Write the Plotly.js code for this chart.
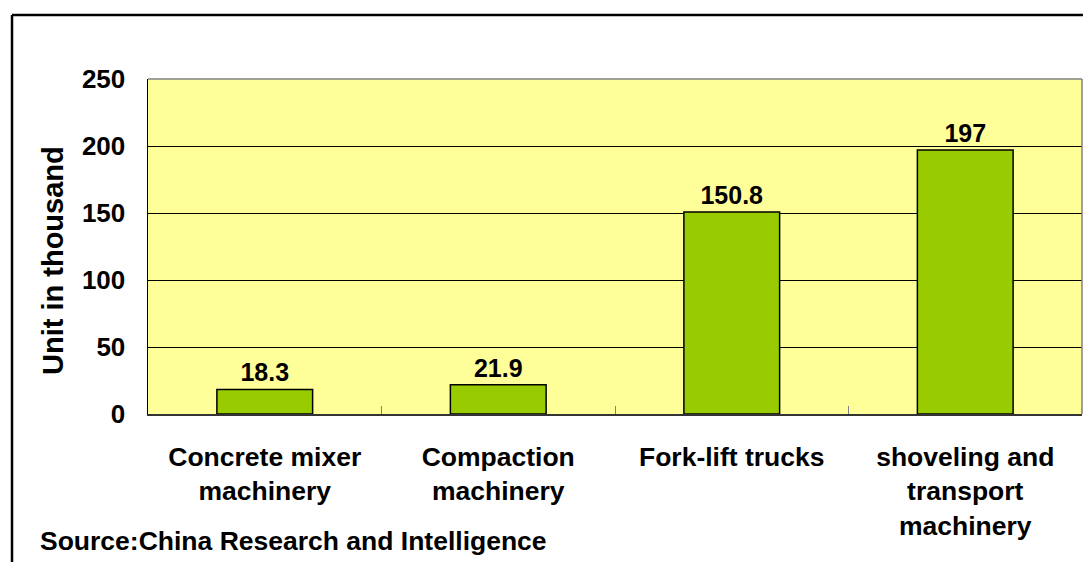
<!DOCTYPE html>
<html>
<head>
<meta charset="utf-8">
<script src="https://cdn.plot.ly/plotly-3.0.1.min.js"></script>
<style>html,body{margin:0;padding:0;background:#fff;}#chart{width:1083px;height:562px;}</style>
</head>
<body>
<div id="chart"></div>
<script>
const categories = ["Concrete mixer<br>machinery", "Compaction<br>machinery", "Fork-lift trucks", "shoveling and<br>transport<br>machinery"];
const values = [18.3, 21.9, 150.8, 197];
const valueLabels = ["18.3", "21.9", "150.8", "197"];
const yTickValues = [0, 50, 100, 150, 200, 250];
const yTitle = "Unit in thousand";
const sourceText = "Source:China Research and Intelligence";

const FONT = "Arial, 'Liberation Sans', Helvetica, sans-serif";

const trace = {
  type: "bar",
  x: categories,
  y: values,
  text: valueLabels,
  textposition: "outside",
  cliponaxis: false,
  textfont: {family: FONT, size: 25, color: "#000", weight: "bold"},
  marker: {color: "#99CC00", line: {color: "#000", width: 1.5}},
  hoverinfo: "x+y"
};

const layout = {
  width: 1083,
  height: 562,
  margin: {l: 148, r: 1, t: 79, b: 148, pad: 0},
  paper_bgcolor: "#ffffff",
  plot_bgcolor: "#FFFF99",
  bargap: 0.59,
  showlegend: false,
  font: {family: FONT, size: 25, color: "#000", weight: "bold"},
  xaxis: {
    type: "category",
    showline: true,
    linecolor: "#333",
    linewidth: 2,
    ticks: "inside",
    tickson: "boundaries",
    ticklen: 8,
    tickcolor: "#808080",
    tickwidth: 1,
    showgrid: false,
    ticklabelstandoff: 18,
    tickfont: {family: FONT, size: 26.5, color: "#000", weight: "bold"}
  },
  yaxis: {
    range: [0, 250],
    tickvals: yTickValues,
    ticktext: yTickValues.map(String),
    showline: true,
    linecolor: "#000",
    linewidth: 1.5,
    ticks: "inside",
    ticklen: 8,
    tickcolor: "#000",
    showgrid: true,
    gridcolor: "#000",
    gridwidth: 1,
    zeroline: false,
    ticklabelstandoff: 16,
    tickfont: {family: FONT, size: 26, color: "#000", weight: "bold"}
  },
  shapes: [
    {type: "line", xref: "paper", yref: "paper", x0: 0, x1: 1, y0: 1, y1: 1, line: {color: "#808080", width: 1.5}},
    {type: "line", xref: "paper", yref: "paper", x0: 1, x1: 1, y0: 0, y1: 1, line: {color: "#808080", width: 1.5}},
    {type: "line", xref: "paper", yref: "paper", x0: -0.1456, x1: 1.2, y0: 1.191, y1: 1.191, line: {color: "#000", width: 2.5}},
    {type: "line", xref: "paper", yref: "paper", x0: -0.1456, x1: -0.1456, y0: 1.191, y1: -0.6, line: {color: "#000", width: 2.5}}
  ],
  annotations: [
    {text: yTitle, textangle: -90, xref: "paper", yref: "paper", x: (53 - 148) / 934, y: (414 - 261) / 335,
     xanchor: "center", yanchor: "middle", showarrow: false,
     font: {family: FONT, size: 29, color: "#000", weight: "bold"}},
    {text: sourceText, xref: "paper", yref: "paper", x: -0.1178, y: -0.379, xanchor: "left", yanchor: "middle", showarrow: false,
     font: {family: FONT, size: 26.5, color: "#000", weight: "bold"}}
  ]
};

Plotly.newPlot("chart", [trace], layout, {displayModeBar: false, staticPlot: true});
</script>
</body>
</html>
